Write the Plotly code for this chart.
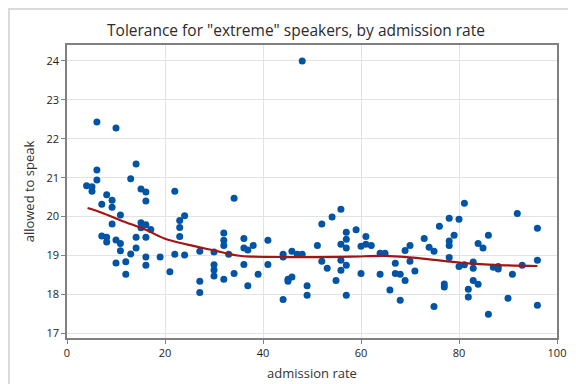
import plotly.graph_objects as go

admission_rate = [
    6.1, 10.0, 4.0, 5.1, 5.1, 6.1, 6.1, 8.1, 7.1, 9.2, 9.2, 10.9, 9.2, 7.1, 8.1, 8.1,
    10.0, 10.9, 10.9, 10.0, 12.0, 12.0, 13.0, 14.1, 14.1, 14.1, 13.0, 15.1, 16.1, 16.1,
    15.1, 15.1, 16.1, 16.1, 17.1, 16.1, 16.1, 19.0, 21.0, 22.0, 23.0, 24.0, 23.0, 23.0,
    22.0, 24.0,
    48.0, 34.1, 27.1, 27.1, 27.1, 30.0, 30.0, 30.0, 30.0, 32.0, 32.0, 32.0, 32.0, 33.0,
    34.1, 36.1, 36.1, 36.9, 38.0, 36.1, 36.9, 39.0, 41.0, 41.0, 44.1, 44.1, 44.1, 45.1,
    45.1, 45.9, 45.9, 47.0, 48.0, 49.0, 49.0, 51.1,
    52.0, 52.0, 53.1, 54.1, 54.9, 55.9, 55.9, 55.9, 55.9, 57.0, 57.0, 57.0, 57.0, 57.0,
    59.0, 60.0, 60.0, 61.0, 61.0, 62.1, 63.9, 64.9, 63.9, 65.9, 67.0, 67.0, 68.0, 68.0,
    69.0, 69.0, 70.0, 70.0, 71.0, 72.9, 73.9, 74.9, 74.9,
    76.0, 77.0, 77.0, 78.0, 78.0, 78.0, 78.0, 79.0, 80.0, 80.0, 81.1, 81.1, 81.9, 81.9,
    82.9, 82.9, 82.9, 83.9, 83.9, 84.9, 86.0, 86.0, 87.0, 88.0, 88.0, 90.0, 90.9, 91.9,
    92.9, 96.0, 96.0, 96.0,
]
allowed_to_speak = [
    22.43, 22.28, 20.79, 20.77, 20.65, 21.20, 20.94, 20.56, 20.32, 20.42, 20.24, 20.04,
    19.81, 19.50, 19.47, 19.35, 19.40, 19.31, 19.12, 18.81, 18.84, 18.52, 19.04, 19.19,
    19.47, 21.35, 20.97, 20.71, 20.63, 20.40, 19.84, 19.71, 19.79, 19.47, 19.67, 18.96,
    18.75, 18.96, 18.58, 20.65, 19.90, 20.02, 19.72, 19.49, 19.03, 19.01,
    24.00, 20.47, 19.11, 18.34, 18.05, 19.09, 18.76, 18.63, 18.47, 19.58, 19.39, 19.26,
    18.39, 19.03, 18.54, 19.44, 19.19, 19.14, 19.26, 18.77, 18.22, 18.52, 19.39, 18.77,
    19.03, 18.96, 17.87, 18.39, 18.34, 18.45, 19.11, 19.03, 19.03, 18.22, 17.98, 19.26,
    19.81, 18.85, 18.67, 19.99, 18.36, 20.19, 19.29, 18.88, 18.62, 19.60, 19.42, 19.19,
    18.75, 17.98, 19.66, 19.24, 18.54, 19.49, 19.29, 19.26, 19.06, 19.06, 18.52, 18.11,
    18.80, 18.54, 18.52, 17.85, 19.13, 18.36, 19.26, 18.85, 18.60, 19.44, 19.21, 19.11,
    17.69,
    19.75, 18.27, 18.19, 19.96, 19.37, 19.26, 18.95, 19.52, 19.93, 18.72, 20.34, 18.76,
    18.13, 17.93, 18.83, 18.67, 18.36, 19.31, 18.26, 19.19, 19.52, 17.49, 18.70, 18.72,
    18.65, 17.90, 18.52, 20.08, 18.75, 19.70, 18.88, 17.72,
]

# smoother
fit_x = [4.2, 7.1, 11.0, 16.1, 20.0, 24.6, 30.0, 34.8, 38.0, 45.0, 51.0, 58.0, 65.0,
         70.0, 74.0, 80.5, 87.0, 96.0]
fit_y = [20.22, 20.10, 19.90, 19.66, 19.43, 19.28, 19.13, 19.00, 18.97, 18.96, 18.96,
         18.97, 18.99, 18.95, 18.90, 18.81, 18.76, 18.73]

x_ticks = [0, 20, 40, 60, 80, 100]
y_ticks = [17, 18, 19, 20, 21, 22, 23, 24]

FONT = "Open Sans"
L, R, T, B = 59, 27, 37, 54
W, H = 576, 384
pw, ph = W - L - R, H - T - B

fig = go.Figure()
fig.add_trace(go.Scatter(
    x=admission_rate, y=allowed_to_speak, mode="markers",
    marker=dict(color="#0054A6", size=7, line=dict(width=0)),
    showlegend=False,
))
fig.add_trace(go.Scatter(
    x=fit_x, y=fit_y, mode="lines", line=dict(color="#A31515", width=2.2, shape="spline"),
    showlegend=False,
))

axis_common = dict(
    showgrid=True, gridcolor="#E3E3E3", gridwidth=1,
    showline=True, linecolor="#808080", linewidth=1.5, mirror=True,
    ticks="outside", ticklen=4, tickcolor="#808080", tickwidth=1,
    tickfont=dict(family=FONT, size=11, color="#222222"),
    zeroline=False,
)
fig.update_layout(
    width=W, height=H,
    margin=dict(l=L, r=R, t=T, b=B),
    paper_bgcolor="white", plot_bgcolor="white",
    title=dict(text='Tolerance for "extreme" speakers, by admission rate',
               x=0.5, xanchor="center", y=1 - 23 / H, yanchor="middle",
               font=dict(family=FONT, size=15.5, color="#2b2b2b")),
    xaxis=dict(range=[0, 100], tickvals=x_ticks,
               title=dict(text="admission rate", standoff=10,
                          font=dict(family=FONT, size=13, color="#333333")),
               **axis_common),
    yaxis=dict(range=[16.879, 24.411], tickvals=y_ticks,
               title=dict(text="allowed to speak", standoff=9,
                          font=dict(family=FONT, size=13, color="#333333")),
               **axis_common),
    shapes=[dict(type="rect", xref="paper", yref="paper",
                 x0=(1 - L) / pw, x1=(W - 1 - L) / pw,
                 y0=-(B - 1) / ph, y1=1 + (T - 1) / ph,
                 line=dict(color="#DADADA", width=2), fillcolor="rgba(0,0,0,0)",
                 layer="above")],
)

fig.write_html("out.html")
